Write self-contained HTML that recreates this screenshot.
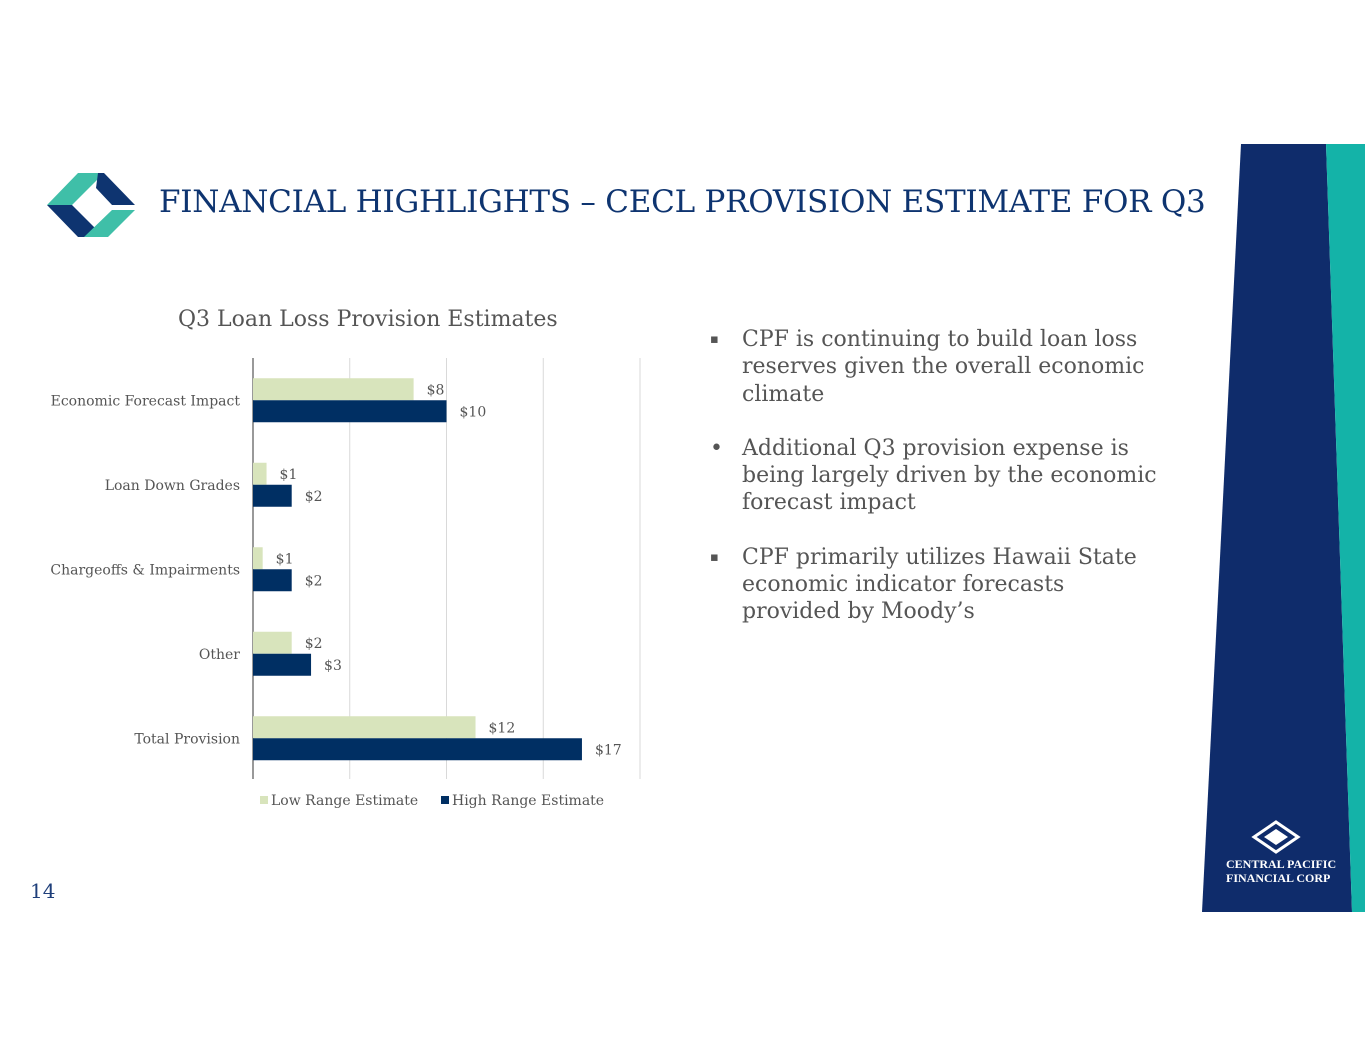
<!DOCTYPE html>
<html><head><meta charset="utf-8"><style>
body{margin:0;width:1365px;height:1055px;background:#fff;position:relative;overflow:hidden;font-family:"DejaVu Serif","Liberation Serif",serif;}
.t{position:absolute;white-space:nowrap}
</style></head><body>
<svg style="position:absolute;left:0;top:0" width="1365" height="1055">
<polygon points="1241,144 1326,144 1352,912 1202,912" fill="#0f2c6b"/>
<polygon points="1326,144 1365,144 1365,912 1352,912" fill="#14b3a8"/>
<g>
<polygon points="47,205 78,173 104,173 72,205" fill="#3fbfa8"/>
<polygon points="98,173 104,173 135,205 112,205 96,188 " fill="#0e3470"/>
<polygon points="47,205 72,205 104,237 78,237" fill="#0e3470"/>
<polygon points="112,210 135,210 108,237 84,237" fill="#3fbfa8"/>
</g>
<g>
<polygon points="1276,822 1298,837 1276,852 1254,837" fill="none" stroke="#fff" stroke-width="3"/>
<polygon points="1276,829 1288,837 1276,845 1264,837" fill="#fff"/>
</g>
</svg>
<div class="t" style="left:1226px;top:857px;color:#fff;font-size:12px;font-weight:bold;line-height:14px;font-family:'Liberation Serif',serif">CENTRAL PACIFIC<br>FINANCIAL CORP</div>
<div class="t" style="left:159px;top:184px;font-size:31px;color:#0e3470;letter-spacing:-0.25px">FINANCIAL HIGHLIGHTS – CECL PROVISION ESTIMATE FOR Q3</div>
<div class="t" style="left:30px;top:879px;font-size:20px;color:#1f3f7a">14</div>
<div class="t" style="left:178px;top:307px;font-size:22px;color:#555">Q3 Loan Loss Provision Estimates</div>
<div style="position:absolute;left:710px;top:326px;width:452px;font-size:22px;color:#555;line-height:27.3px">
<div style="position:relative;padding-left:32px;margin-bottom:27px"><span style="position:absolute;left:0;font-size:13px">▪</span>CPF is continuing to build loan loss reserves given the overall economic climate</div>
<div style="position:relative;padding-left:32px;margin-bottom:27px"><span style="position:absolute;left:0">•</span>Additional Q3 provision expense is being largely driven by the economic forecast impact</div>
<div style="position:relative;padding-left:32px"><span style="position:absolute;left:0;font-size:13px">▪</span>CPF primarily utilizes Hawaii State economic indicator forecasts provided by Moody’s</div>
</div>
<svg id="chart" style="position:absolute;left:0;top:0" width="1365" height="1055"></svg>
<script>
const categories=["Economic Forecast Impact","Loan Down Grades","Chargeoffs & Impairments","Other","Total Provision"];
const lowValues=[8.3,0.7,0.5,2,11.5];
const highValues=[10,2,2,3,17];
const lowLabels=["$8","$1","$1","$2","$12"];
const highLabels=["$10","$2","$2","$3","$17"];
const gridTicks=[0,5,10,15,20];
const svg=document.getElementById('chart');const NS='http://www.w3.org/2000/svg';
const x0=253,pxU=19.35,top0=358,band=84.5;
const xs=v=>x0+v*pxU;
function mk(t,a,p){const e=document.createElementNS(NS,t);for(const k in a)e.setAttribute(k,a[k]);(p||svg).appendChild(e);return e;}
gridTicks.forEach((t,i)=>{const g=mk('line',{x1:xs(t),x2:xs(t),y1:358,y2:779,stroke:i?'#d9d9d9':'#333','stroke-width':1});

});
categories.forEach((c,i)=>{const yc=top0+band*(i+0.5);
const lt=mk('text',{x:240,y:yc+5,'text-anchor':'end','font-size':14,fill:'#555','font-family':'DejaVu Serif, serif'});lt.textContent=c;


const b1=mk('rect',{x:x0,y:yc-22,width:xs(lowValues[i])-x0,height:22,fill:'#d8e4bc'});


const b2=mk('rect',{x:x0,y:yc,width:xs(highValues[i])-x0,height:22,fill:'#002f63'});


const l1=mk('text',{x:xs(lowValues[i])+13,y:yc-6,'font-size':14,fill:'#555','font-family':'DejaVu Serif, serif'});l1.textContent=lowLabels[i];


const l2=mk('text',{x:xs(highValues[i])+13,y:yc+16,'font-size':14,fill:'#555','font-family':'DejaVu Serif, serif'});l2.textContent=highLabels[i];


});
[[260,'#d8e4bc','Low Range Estimate'],[441,'#002f63','High Range Estimate']].forEach(([x,c,t])=>{
const r=mk('rect',{x:x,y:796,width:8,height:8,fill:c});


const tx=mk('text',{x:x+11,y:805,'font-size':14,fill:'#555','font-family':'DejaVu Serif, serif'});tx.textContent=t;

});
</script>
</body></html>
